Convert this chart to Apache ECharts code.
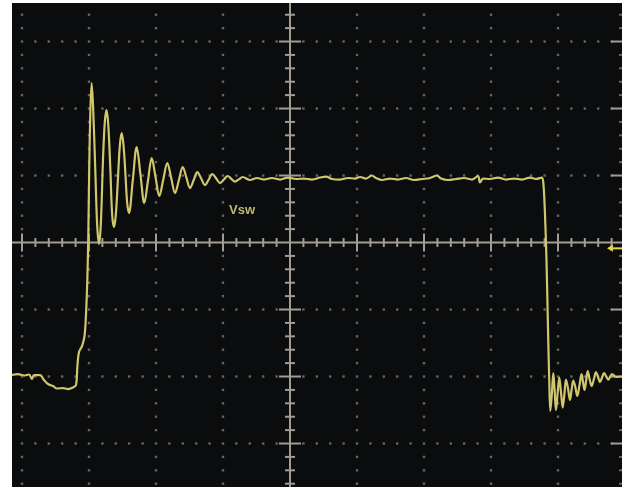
<!DOCTYPE html>
<html>
<head>
<meta charset="utf-8">
<script src="https://cdn.jsdelivr.net/npm/echarts@6/dist/echarts.min.js"></script>
<style>
  html, body { margin: 0; padding: 0; background: #ffffff; }
  #chart { width: 626px; height: 491px; }
</style>
</head>
<body>
<div id="chart"></div>
<script>
// Switch-node voltage capture. Time and voltage are in screen divisions
// (the centre of the graticule is 0,0).
const timeDiv = [
  -4.149, -4.060, -3.970, -3.896, -3.851, -3.821, -3.731, -3.672, -3.612, -3.537,
  -3.478, -3.388, -3.313, -3.239, -3.194, -3.172, -3.149, -3.104, -3.067, -3.045,
  -3.025, -3.010, -2.997, -2.979, -2.960, -2.937, -2.906, -2.878, -2.851, -2.824,
  -2.791, -2.764, -2.739, -2.712, -2.682, -2.654, -2.627, -2.600, -2.569, -2.539,
  -2.512, -2.485, -2.457, -2.430, -2.403, -2.346, -2.288, -2.231, -2.175, -2.119,
  -2.064, -2.007, -1.951, -1.891, -1.831, -1.773, -1.716, -1.658, -1.601, -1.546,
  -1.493, -1.437, -1.384, -1.325, -1.269, -1.213, -1.160, -1.101, -1.045, -0.987,
  -0.930, -0.875, -0.821, -0.763, -0.706, -0.597, -0.493, -0.388, -0.269, -0.149,
  -0.030,  0.090,  0.209,  0.328,  0.448,  0.537,  0.627,  0.746,  0.866,  0.970,
   1.045,  1.134,  1.224,  1.284,  1.373,  1.493,  1.612,  1.731,  1.851,  1.970,
   2.090,  2.194,  2.254,  2.358,  2.478,  2.597,  2.716,  2.806,  2.836,  2.881,
   2.985,  3.104,  3.224,  3.343,  3.463,  3.582,  3.672,  3.757,  3.781,  3.803,
   3.828,  3.851,  3.869,  3.885,  3.907,  3.930,  3.951,  3.970,  3.996,  4.019,
   4.045,  4.070,  4.096,  4.119,  4.149,  4.179,  4.204,  4.228,  4.258,  4.288,
   4.321,  4.351,  4.373,  4.396,  4.419,  4.443,  4.473,  4.503,  4.536,  4.567,
   4.597,  4.627,  4.657,  4.687,  4.719,  4.751,  4.806,  4.866,  4.955
];
const voltDiv = [
  -1.978, -1.963, -1.985, -1.970, -2.037, -1.978, -1.978, -2.052, -2.112, -2.142,
  -2.179, -2.172, -2.187, -2.164, -2.127, -1.828, -1.634, -1.545, -1.396, -1.082,
  -0.560,  0.112,  1.082,  1.978,  2.381,  1.978,  1.082,  0.261, -0.022,  0.261,
   1.231,  1.799,  1.978,  1.754,  1.112,  0.410,  0.231,  0.410,  0.933,  1.455,
   1.634,  1.455,  1.037,  0.590,  0.440,  0.933,  1.425,  1.007,  0.590,  0.925,
   1.261,  0.978,  0.694,  0.940,  1.187,  0.963,  0.739,  0.933,  1.127,  0.970,
   0.813,  0.933,  1.052,  0.955,  0.858,  0.940,  1.022,  0.955,  0.888,  0.940,
   0.993,  0.951,  0.910,  0.943,  0.978,  0.933,  0.963,  0.940,  0.963,  0.940,
   0.970,  0.948,  0.955,  0.940,  0.970,  0.985,  0.948,  0.940,  0.963,  0.955,
   0.978,  0.955,  1.000,  0.963,  0.933,  0.955,  0.940,  0.963,  0.933,  0.948,
   0.963,  1.000,  0.955,  0.933,  0.948,  0.963,  0.940,  0.993,  0.896,  0.955,
   0.948,  0.970,  0.940,  0.955,  0.940,  0.970,  0.948,  0.970,  0.888,  0.485,
  -0.261, -1.306, -2.052, -2.515, -2.276, -1.948, -2.231, -2.500, -2.231, -2.015,
  -2.239, -2.463, -2.254, -2.045, -2.179, -2.351, -2.187, -2.060, -2.157, -2.291,
  -2.127, -1.963, -2.082, -2.201, -2.067, -1.918, -2.045, -2.142, -2.037, -1.933,
  -2.007, -2.082, -2.015, -1.948, -1.997, -2.045, -1.963, -2.007, -2.000
];

// Trigger level marker and channel label
const triggerLevel = -0.087;
const traceLabel = 'Vsw';
const labelTime = -0.716;
const labelVolt = 0.485;

// Visible part of the 10 x 8 division graticule
const X_MIN = -4.149, X_MAX = 4.955;
const Y_MIN = -3.649, Y_MAX = 3.575;
const MINOR = 0.2;

const DOT = '#6a635b';
const AXIS = '#a39d91';
const TRACE = '#d0c76c';

function graticule(params, api) {
  const c = [];
  const at = (x, y) => api.coord([x, y]);
  const left = at(X_MIN, 0)[0], right = at(X_MAX, 0)[0];
  const top = at(0, Y_MAX)[1], bottom = at(0, Y_MIN)[1];
  const kyMin = Math.ceil(Y_MIN / MINOR), kyMax = Math.floor(Y_MAX / MINOR);
  const kxMin = Math.ceil(X_MIN / MINOR), kxMax = Math.floor(X_MAX / MINOR);
  const dot = (p) => c.push({ type: 'rect', shape: { x: p[0] - 1.2, y: p[1] - 1.2, width: 2.4, height: 2.4 },
                              style: { fill: DOT } });

  // dotted vertical division lines
  for (let gx = -4; gx <= 4; gx++) {
    if (gx === 0) continue;
    for (let k = kyMin; k <= kyMax; k++) dot(at(gx, k * MINOR));
  }
  // dotted horizontal division lines
  for (let gy = -3; gy <= 3; gy++) {
    if (gy === 0) continue;
    for (let k = kxMin; k <= kxMax; k++) {
      if (k % 5 === 0) continue;
      dot(at(k * MINOR, gy));
    }
  }
  // centre cross-hair
  const o = at(0, 0);
  c.push({ type: 'line', shape: { x1: left, y1: o[1], x2: right, y2: o[1] },
           style: { stroke: AXIS, lineWidth: 2 } });
  c.push({ type: 'line', shape: { x1: o[0], y1: top, x2: o[0], y2: bottom },
           style: { stroke: AXIS, lineWidth: 2 } });
  for (let k = kxMin; k <= kxMax; k++) {
    if (k === 0) continue;
    const p = at(k * MINOR, 0);
    const h = (k % 5 === 0) ? 9 : 4.5;
    c.push({ type: 'line', shape: { x1: p[0], y1: p[1] - h, x2: p[0], y2: p[1] + h },
             style: { stroke: AXIS, lineWidth: 2 } });
  }
  for (let k = kyMin; k <= kyMax; k++) {
    if (k === 0) continue;
    const p = at(0, k * MINOR);
    const h = (k % 5 === 0) ? 11 : 5;
    c.push({ type: 'line', shape: { x1: p[0] - h, y1: p[1], x2: p[0] + h, y2: p[1] },
             style: { stroke: AXIS, lineWidth: 2 } });
  }
  // right-hand frame ticks (frame sits at +5 divisions)
  const fx = at(5, 0)[0];
  for (let k = kyMin; k <= kyMax; k++) {
    if (k === 0) continue;
    const p = at(5, k * MINOR);
    const h = (k % 5 === 0) ? 14 : 6;
    c.push({ type: 'line', shape: { x1: fx - h, y1: p[1], x2: Math.min(fx + h, right), y2: p[1] },
             style: { stroke: (k % 5 === 0) ? AXIS : DOT, lineWidth: 2 } });
  }
  return { type: 'group', children: c };
}

function annotations(params, api) {
  const right = api.coord([X_MAX, 0])[0];
  const m = api.coord([4.79, triggerLevel]);
  const lp = api.coord([labelTime, labelVolt]);
  return {
    type: 'group',
    children: [
      { type: 'polygon', shape: { points: [[m[0] - 4, m[1]], [m[0] + 2, m[1] - 3.5], [m[0] + 2, m[1] + 3.5]] },
        style: { fill: '#e6d84c' } },
      { type: 'line', shape: { x1: m[0] + 2, y1: m[1], x2: right, y2: m[1] },
        style: { stroke: '#e6d84c', lineWidth: 2 } },
      { type: 'text', x: lp[0], y: lp[1],
        style: { text: traceLabel, fill: '#c2b972', font: 'bold 13px "Liberation Sans", Arial, sans-serif',
                 align: 'center', verticalAlign: 'middle' } }
    ]
  };
}

const chart = echarts.init(document.getElementById('chart'), null, { renderer: 'canvas' });
chart.setOption({
  animation: false,
  backgroundColor: '#ffffff',
  grid: { left: 12, top: 3, right: 4, bottom: 4, show: true, backgroundColor: '#0a0c0d', borderWidth: 0 },
  xAxis: { type: 'value', min: X_MIN, max: X_MAX, show: false },
  yAxis: { type: 'value', min: Y_MIN, max: Y_MAX, show: false },
  series: [
    { type: 'custom', renderItem: graticule, data: [[0, 0]], silent: true, z: 1, clip: true },
    { type: 'line', data: timeDiv.map((t, i) => [t, voltDiv[i]]), showSymbol: false, smooth: 0.35,
      lineStyle: { color: TRACE, width: 2.2 }, z: 3, silent: true },
    { type: 'custom', renderItem: annotations, data: [[0, 0]], silent: true, z: 4 }
  ]
});
</script>
</body>
</html>
